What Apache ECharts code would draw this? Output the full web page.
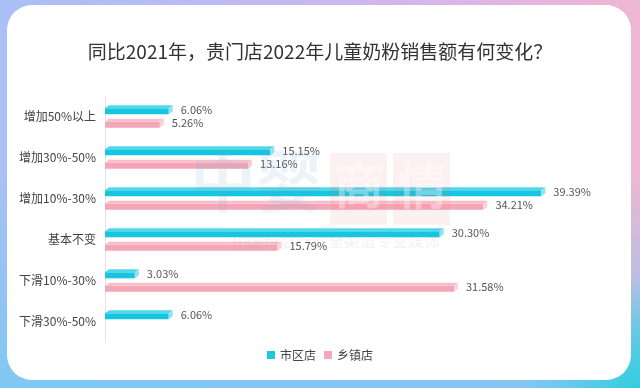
<!DOCTYPE html>
<html>
<head>
<meta charset="utf-8">
<script src="https://cdn.jsdelivr.net/npm/echarts@6/dist/echarts.min.js"></script>
<style>
html,body{margin:0;padding:0;width:640px;height:388px;overflow:hidden;}
body{
  background:
    radial-gradient(circle at 100% 100%, rgba(50,205,225,1) 0px, rgba(50,205,225,0) 110px),
    linear-gradient(to bottom, rgba(125,200,242,0) 45%, rgba(125,200,242,0.95) 100%),
    linear-gradient(to right, #a9c0f6 0%, #bcb9f3 35%, #deb5e6 75%, #efb6d2 100%);
}
#c{width:640px;height:388px;}
</style>
</head>
<body>
<div id="c"></div>
<script>
const titleText = '同比2021年，贵门店2022年儿童奶粉销售额有何变化？';
const categories = ['增加50%以上', '增加30%-50%', '增加10%-30%', '基本不变', '下滑10%-30%', '下滑30%-50%'];
const seriesNames = ['市区店', '乡镇店'];
const cityValues = [6.06, 15.15, 39.39, 30.30, 3.03, 6.06];
const townValues = [5.26, 13.16, 34.21, 15.79, 31.58, 0];

const FONT = '"Noto Sans CJK SC", "Noto Sans", sans-serif';

function makeRender(offset, c) {
  return function (params, api) {
    const v = api.value(0);
    const ci = api.value(1);
    if (!v) return null;
    const s = api.coord([0, ci]);
    const e = api.coord([v, ci]);
    const cy = e[1] + offset;
    const h = 9, d = 3, sk = 4;
    const top = cy - h / 2, bot = cy + h / 2;
    const x0 = s[0];
    const x1 = Math.max(x0 + 1, e[0] - sk);
    return {
      type: 'group',
      children: [
        { type: 'rect', shape: { x: x0, y: top + d, width: x1 - x0, height: h - d }, style: { fill: c.front } },
        { type: 'polygon', shape: { points: [[x0, top + d], [x0 + sk, top], [x1 + sk, top], [x1, top + d]] }, style: { fill: c.top } },
        { type: 'polygon', shape: { points: [[x1, top + d], [x1 + sk, top], [x1 + sk, bot - d], [x1, bot]] }, style: { fill: c.side } },
        { type: 'text', style: { text: v.toFixed(2) + '%', x: e[0] + 8, y: cy, verticalAlign: 'middle', align: 'left', fill: '#555', font: '11px ' + FONT } }
      ]
    };
  };
}

const chart = echarts.init(document.getElementById('c'), null, { renderer: 'canvas' });
chart.setOption({
  backgroundColor: 'transparent',
  animation: false,
  graphic: [
    { type: 'rect', z: -10, shape: { x: 7, y: 5, width: 624, height: 375, r: 25 }, style: { fill: '#ffffff' } },
    { type: 'text', z: 100, left: 190, top: 148, style: { text: '中婴', font: 'bold 66px "Noto Sans CJK SC"', fill: 'rgba(110,165,210,0.13)' } },
    { type: 'rect', z: 100, shape: { x: 330, y: 153, width: 57, height: 72 }, style: { fill: 'rgba(235,110,120,0.10)' } },
    { type: 'rect', z: 100, shape: { x: 393, y: 153, width: 57, height: 72 }, style: { fill: 'rgba(235,110,120,0.10)' } },
    { type: 'text', z: 101, left: 334, top: 160, style: { text: '商', font: 'bold 50px "Noto Sans CJK SC"', fill: 'rgba(255,255,255,0.35)' } },
    { type: 'text', z: 101, left: 397, top: 160, style: { text: '情', font: 'bold 50px "Noto Sans CJK SC"', fill: 'rgba(255,255,255,0.35)' } },
    { type: 'text', z: 100, left: 232, top: 233, style: { text: '中国母婴行业全渠道专业媒体', font: '16px "Noto Sans CJK SC"', fill: 'rgba(150,150,150,0.12)' } }
  ],
  title: {
    text: titleText,
    left: 'center',
    top: 37,
    textStyle: { fontFamily: FONT, fontSize: 19, fontWeight: 'normal', color: '#333' }
  },
  legend: {
    data: seriesNames,
    bottom: 22,
    left: 'center',
    icon: 'rect',
    itemWidth: 8,
    itemHeight: 8,
    itemGap: 8,
    textStyle: { fontFamily: FONT, fontSize: 12, color: '#444' }
  },
  grid: { left: 105, right: 32, top: 96, bottom: 46 },
  xAxis: { type: 'value', min: 0, max: 45, show: false },
  yAxis: {
    type: 'category',
    data: categories,
    inverse: true,
    axisLine: { show: true, lineStyle: { color: '#e2e2e2' } },
    axisTick: { show: false },
    axisLabel: { margin: 9, fontFamily: FONT, fontSize: 12, color: '#444' }
  },
  series: [
    {
      name: seriesNames[0], type: 'custom',
      itemStyle: { color: '#1cc7e1' },
      encode: { x: 0, y: 1 },
      data: cityValues.map((v, i) => [v, i]),
      renderItem: makeRender(-6.7, { front: '#16c6e0', top: '#52d7ea', side: '#95e1eb' })
    },
    {
      name: seriesNames[1], type: 'custom',
      itemStyle: { color: '#f4a8b7' },
      encode: { x: 0, y: 1 },
      data: townValues.map((v, i) => [v, i]),
      renderItem: makeRender(6.7, { front: '#f5a6b6', top: '#f8bfca', side: '#fbd3da' })
    }
  ]
});
</script>
</body>
</html>
